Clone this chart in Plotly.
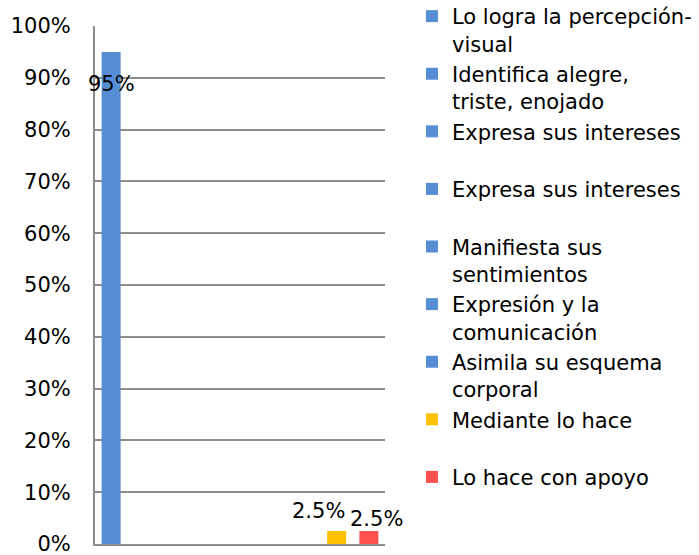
import plotly.graph_objects as go

category = [""]
series_names = [
    "Lo logra la percepción-<br>visual",
    "Identifica alegre,<br>triste, enojado",
    "Expresa sus intereses<br> ",
    "Expresa sus intereses<br> ",
    "Manifiesta sus<br>sentimientos",
    "Expresión y la<br>comunicación",
    "Asimila su esquema<br>corporal",
    "Mediante lo hace<br> ",
    "Lo hace con apoyo<br> ",
]
series_values = [0.95, 0, 0, 0, 0, 0, 0, 0.025, 0.025]
series_labels = ["95%", "", "", "", "", "", "", "2.5%", "2.5%"]
series_colors = ["#558ED5"] * 7 + ["#FFC000", "#FF5050"]
# label offsets relative to each bar top (pixels): (xshift, yshift, yanchor)
label_offsets = [(0, -18, "top"), None, None, None, None, None, None,
                 (-18, 6, "bottom"), (8, -2, "bottom")]

FONT = "DejaVu Sans"
n = len(series_names)

fig = go.Figure()
for name, val, col in zip(series_names, series_values, series_colors):
    fig.add_trace(go.Bar(
        x=category, y=[val], name=name,
        marker=dict(color=col, line=dict(width=0)),
        hoverinfo="name+y",
    ))

# data labels anchored to each bar's slot within the single category group
for i, (val, lab, off) in enumerate(zip(series_values, series_labels, label_offsets)):
    if not lab:
        continue
    slot_center = -0.5 + (i + 0.5) / n
    fig.add_annotation(
        x=slot_center, y=val, xref="x", yref="y",
        text=lab, showarrow=False,
        xanchor="center", yanchor=off[2],
        xshift=off[0], yshift=off[1],
        font=dict(family=FONT, size=21, color="#000000"),
    )

fig.update_layout(
    width=699, height=555,
    margin=dict(l=95, r=314, t=26, b=11, autoexpand=False),
    paper_bgcolor="white", plot_bgcolor="white",
    barmode="group", bargap=0, bargroupgap=0.41,
    font=dict(family=FONT, size=21, color="#000000"),
    showlegend=True,
    legend=dict(
        x=1.093, y=1.058, xanchor="left", yanchor="top",
        font=dict(family=FONT, size=21, color="#000000"),
        valign="top", itemwidth=30, tracegroupgap=0,
        bgcolor="rgba(0,0,0,0)", maxheight=600,
    ),
)
fig.update_xaxes(
    showticklabels=False, showgrid=False, ticks="", automargin=False,
    showline=True, linecolor="#8C8C8C", linewidth=2,
    range=[-0.5, 0.5],
)
fig.update_yaxes(
    range=[0, 1], dtick=0.1, tickformat=".0%", automargin=False,
    showgrid=True, gridcolor="#8C8C8C", gridwidth=2,
    showline=True, linecolor="#8C8C8C", linewidth=2,
    zeroline=False, ticks="", ticklabelstandoff=18,
    ticklabeloverflow="allow",
    tickfont=dict(family=FONT, size=21, color="#000000"),
)

fig.write_html(
    "out.html",
    config={"displayModeBar": False},
    post_script="document.body.style.margin='0';document.body.style.overflow='hidden';",
)
